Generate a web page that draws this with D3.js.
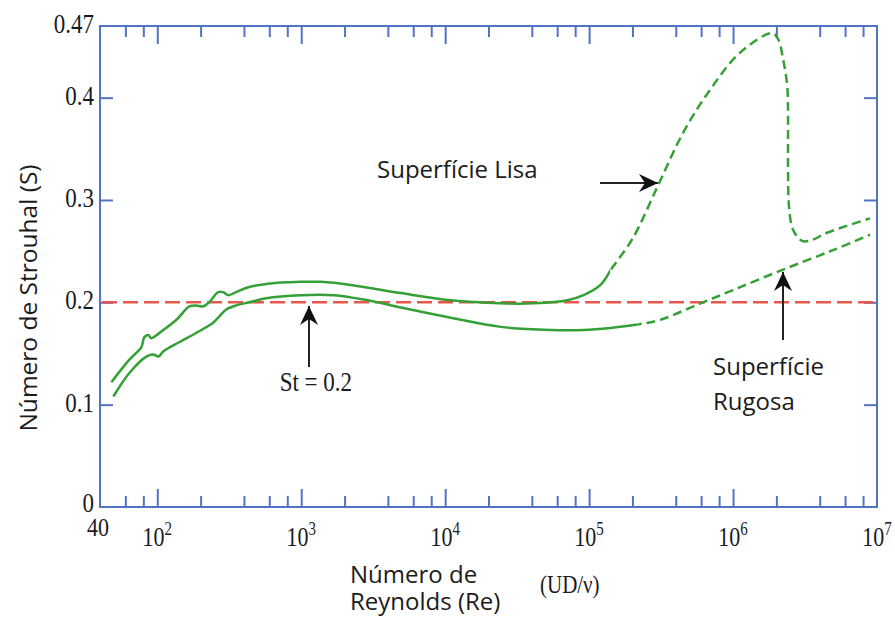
<!DOCTYPE html>
<html lang="pt">
<head>
<meta charset="utf-8">
<script src="https://cdn.jsdelivr.net/npm/d3@7"></script>
<style>
  body { margin: 0; background: #fff; }
  svg { display: block; }
  .serif { font-family: "Liberation Serif", "DejaVu Serif", serif; fill: #1b1b1b; }
  .sans { font-family: "Open Sans", "Noto Sans", sans-serif; fill: #1b1b1b; }
</style>
</head>
<body>
<div id="chart"></div>
<script>
// valores: [Re, S]
// superficie lisa (continua ate lisaCorte, tracejada depois)
const lisa = [
  [48, 0.122], [64, 0.144], [77.4, 0.156], [81.3, 0.166], [86.6, 0.168], [90.9, 0.165],
  [110, 0.173], [136, 0.183], [167, 0.196], [186, 0.197], [208, 0.196], [229, 0.200],
  [265, 0.210], [287, 0.210], [311, 0.207], [353, 0.210], [435, 0.215], [570, 0.218],
  [997, 0.220], [1370, 0.220], [2210, 0.217], [4920, 0.209], [10900, 0.202],
  [24300, 0.199], [41100, 0.199], [70800, 0.202], [91400, 0.207], [120000, 0.217],
  [145000, 0.234], [200000, 0.262], [303000, 0.315], [451000, 0.366], [695000, 0.408],
  [1.12e6, 0.444], [1.87e6, 0.463], [2.06e6, 0.457], [2.23e6, 0.437], [2.38e6, 0.411],
  [2.41e6, 0.378], [2.41e6, 0.329], [2.45e6, 0.293], [2.61e6, 0.271], [3.02e6, 0.260],
  [3.54e6, 0.261], [4.5e6, 0.268], [8.94e6, 0.282]
];
const lisaCorte = 140000;

// superficie rugosa (continua ate rugosaCorte, tracejada depois)
const rugosa = [
  [49.5, 0.108], [64, 0.131], [83.9, 0.147], [93.8, 0.149], [102, 0.147], [110, 0.152],
  [142, 0.161], [186, 0.170], [244, 0.180], [269, 0.186], [301, 0.193], [353, 0.197],
  [435, 0.200], [570, 0.204], [997, 0.207], [1690, 0.207], [2900, 0.202], [4920, 0.195],
  [10900, 0.185], [24300, 0.176], [54000, 0.173], [91400, 0.173], [141000, 0.175],
  [210000, 0.178], [313000, 0.183], [530000, 0.196], [1.0e6, 0.212], [2.23e6, 0.232],
  [4.95e6, 0.251], [8.94e6, 0.266]
];
const rugosaCorte = 220000;

const stLinha = 0.2;
const yTicks = [0.1, 0.2, 0.3, 0.4];
const yLabels = [0, 0.1, 0.2, 0.3, 0.4, 0.47];
const xMajor = [1e2, 1e3, 1e4, 1e5, 1e6];
const xMinor = [60, 80, 200, 400, 600, 800, 2e3, 4e3, 6e3, 8e3, 2e4, 4e4, 6e4, 8e4,
                2e5, 4e5, 6e5, 8e5, 2e6, 4e6, 6e6, 8e6];
const xExpoentes = [2, 3, 4, 5, 6, 7];

const W = 895, H = 621;
const azul = "#5273c4", verde = "#34a036", vermelho = "#e6584c";

const svg = d3.select("#chart").append("svg").attr("width", W).attr("height", H);

const x = d3.scaleLog().domain([40, 1e7]).range([100, 877]);
const y = d3.scaleLinear().domain([0, 0.47]).range([507, 26]);

// eixos (so tracos)
function eixo(ax, tx, ty) {
  const g = svg.append("g").attr("transform", `translate(${tx},${ty})`).call(ax);
  g.select(".domain").remove();
  g.selectAll("text").remove();
  g.selectAll("line").attr("stroke", azul).attr("stroke-width", 2);
}
eixo(d3.axisBottom(x).tickValues(xMinor).tickSize(-11), 0, 507);
eixo(d3.axisBottom(x).tickValues(xMajor).tickSize(-18), 0, 507);
eixo(d3.axisTop(x).tickValues(xMinor).tickSize(-11), 0, 26);
eixo(d3.axisTop(x).tickValues(xMajor).tickSize(-18), 0, 26);
eixo(d3.axisLeft(y).tickValues(yTicks).tickSize(-13), 100, 0);
eixo(d3.axisRight(y).tickValues(yTicks).tickSize(-13), 877, 0);

svg.append("rect")
  .attr("x", 100).attr("y", 26).attr("width", 777).attr("height", 481)
  .attr("fill", "none").attr("stroke", azul).attr("stroke-width", 2);

// linha St = 0.2
svg.append("line")
  .attr("x1", x(40) + 2).attr("x2", x(1e7))
  .attr("y1", y(stLinha)).attr("y2", y(stLinha))
  .attr("stroke", vermelho).attr("stroke-width", 2.5)
  .attr("stroke-dasharray", "15,6");

// curvas: um so caminho, recortado em parte continua / tracejada
const linha = d3.line()
  .x(d => x(d[0])).y(d => y(d[1]))
  .curve(d3.curveCatmullRom.alpha(0.5));

const defs = svg.append("defs");
function curva(nome, dados, corte) {
  const xc = x(corte);
  defs.append("clipPath").attr("id", nome + "-a")
    .append("rect").attr("x", 0).attr("y", 0).attr("width", xc).attr("height", H);
  defs.append("clipPath").attr("id", nome + "-b")
    .append("rect").attr("x", xc).attr("y", 0).attr("width", W - xc).attr("height", H);
  [["a", null], ["b", "9,5"]].forEach(([p, dash]) => {
    svg.append("path")
      .datum(dados)
      .attr("d", linha)
      .attr("clip-path", `url(#${nome}-${p})`)
      .attr("fill", "none")
      .attr("stroke", verde)
      .attr("stroke-width", 2.5)
      .attr("stroke-dasharray", dash);
  });
}
curva("lisa", lisa, lisaCorte);
curva("rugosa", rugosa, rugosaCorte);

// rotulos
const sy = 1.15;
function texto(cls, tx, ty, size, anchor, k) {
  return svg.append("text")
    .attr("class", cls)
    .attr("transform", `translate(${tx},${ty}) scale(1,${k})`)
    .attr("font-size", size)
    .attr("text-anchor", anchor);
}

yLabels.forEach(v => {
  texto("serif", 94, y(v) + (v === 0 ? 5 : 7), 23, "end", sy).text(String(v));
});

texto("serif", 98, 536, 22, "middle", sy).text("40");
xExpoentes.forEach(e => {
  const t = texto("serif", x(Math.pow(10, e)), 546, 22, "middle", 1.22);
  t.append("tspan").text("10");
  t.append("tspan").attr("font-size", 15).attr("dy", -9).text(e);
});

// titulos
svg.append("text")
  .attr("class", "sans")
  .attr("transform", "translate(37,298) rotate(-90)")
  .attr("font-size", 24.5)
  .attr("text-anchor", "middle")
  .text("Número de Strouhal (S)");

const tx = texto("sans", 350, 583, 24, "start", 1);
tx.append("tspan").attr("x", 0).text("Número de");
tx.append("tspan").attr("x", 0).attr("dy", 27).text("Reynolds (Re)");
texto("serif", 540, 593, 21, "start", sy).text("(UD/ν)");

// anotacoes
texto("sans", 377, 178, 24, "start", 1).text("Superfície Lisa");
const tr = texto("sans", 713, 375, 24, "start", 1);
tr.append("tspan").attr("x", 0).text("Superfície");
tr.append("tspan").attr("x", 0).attr("dy", 35).text("Rugosa");
texto("serif", 352, 391, 23, "end", sy).text("St = 0.2");

function seta(x1, y1, x2, y2) {
  svg.append("line")
    .attr("x1", x1).attr("y1", y1).attr("x2", x2).attr("y2", y2)
    .attr("stroke", "#222").attr("stroke-width", 2);
  const ang = Math.atan2(y2 - y1, x2 - x1) * 180 / Math.PI;
  svg.append("path")
    .attr("d", "M0,0 L-19,-9 L-13,0 L-19,9 Z")
    .attr("transform", `translate(${x2},${y2}) rotate(${ang})`)
    .attr("fill", "#111");
}
seta(600, 183, 658, 183);
seta(309, 367, 309, 306);
seta(783, 340, 783, 272);
</script>
</body>
</html>
